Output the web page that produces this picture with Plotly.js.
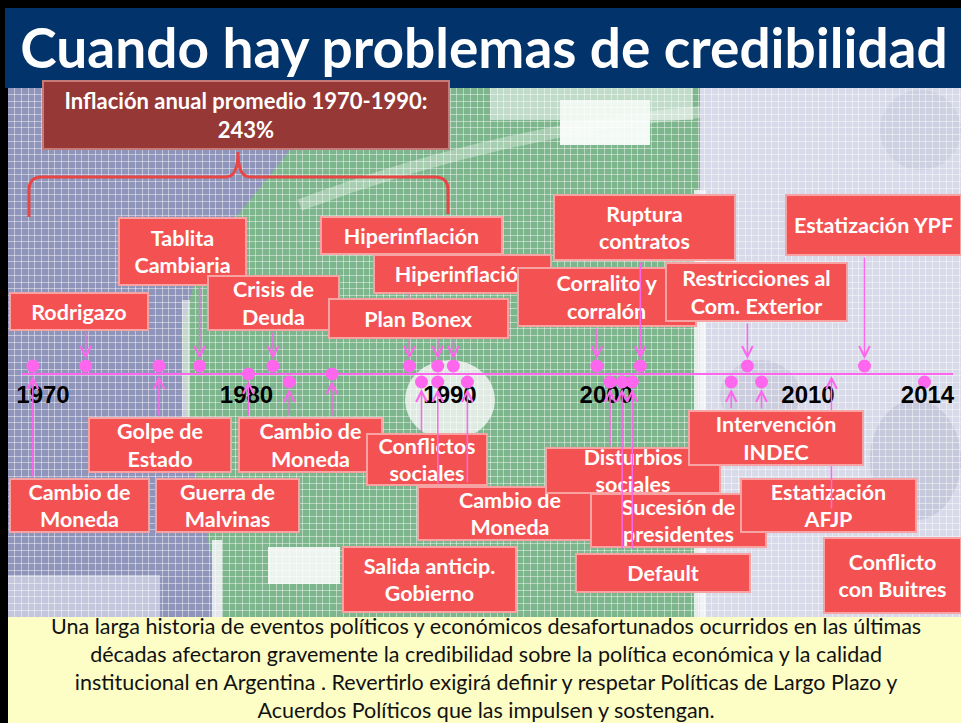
<!DOCTYPE html>
<html><head><meta charset="utf-8">
<script src="https://cdn.plot.ly/plotly-3.0.1.min.js"></script>
<style>html,body{margin:0;padding:0;background:#000;} #chart{width:961px;height:723px;}</style>
</head><body><div id="chart"></div>
<script>
// ================= DATA =================
const titleText = 'Cuando hay problemas de credibilidad';
const tickYears = [1970, 1980, 1990, 2000, 2010, 2014];
const tickLabels = ['1970', '1980', '1990', '2000', '2010', '2014'];

// timeline points (years on the slide's own scale)
const markerYears = [1969.5, 1972.1, 1975.7, 1977.7, 1980.1, 1981.3, 1982.1, 1984.2, 1988.0, 1988.6, 1989.4, 1989.4,
                     1990.2, 1991.1, 1999.4, 2000.2, 2000.8, 2001.3, 2001.7, 2006.2, 2007.0, 2007.7, 2011.9, 2013.9];
// 1 = above the line, 0 = on the line, -1 = below the line
const markerSide = [1, 1, 1, 1, 0, 1, -1, 0, 1, -1, 1, -1, 1, -1, 1, -1, -1, -1, 1, -1, 1, -1, 1, -1];

// connector arrows (year they point at, level pointed at, and where they come from)
const connectorYears = [1969.5, 1972.1, 1975.7, 1977.7, 1980.1, 1981.3, 1982.1, 1984.2, 1988.0, 1988.6, 1989.4, 1989.4,
                        1990.2, 1991.1, 1999.4, 2000.2, 2000.8, 2001.3, 2001.7, 2006.2, 2007.0, 2007.7, 2010.8, 2011.9];
const connectorHead = [0, 1, 0, 1, 0, 1, -1, 0, 1, -1, 1, -1, 1, -1, 1, -1, -1, -1, 1, -1, 1, -1, 0, 1];
const connectorFrom = ['below', 'above', 'below', 'above', 'below', 'above', 'below', 'below', 'above', 'below', 'above', 'below',
                       'above', 'below', 'above', 'below', 'below', 'below', 'above', 'below', 'above', 'below', 'below', 'above'];

const eventLabels = [
  'Cambio de<br>Moneda', 'Rodrigazo', 'Golpe de<br>Estado', 'Tablita<br>Cambiaria', 'Guerra de<br>Malvinas',
  'Crisis de<br>Deuda', 'Cambio de<br>Moneda', 'Hiperinflación', 'Conflictos<br>sociales', 'Hiperinflación',
  'Plan Bonex', 'Cambio de<br>Moneda', 'Salida anticip.<br>Gobierno', 'Corralito y<br>corralón', 'Ruptura<br>contratos',
  'Disturbios<br>sociales', 'Sucesión de<br>presidentes', 'Default', 'Intervención<br>INDEC', 'Restricciones al<br>Com. Exterior',
  'Estatización<br>AFJP', 'Estatización YPF', 'Conflicto<br>con Buitres'
];
const inflationLabel = 'Inflación anual promedio 1970-1990:<br>243%';
const footLines = [
  'Una larga historia de eventos políticos y económicos desafortunados ocurridos en las últimas',
  'décadas afectaron gravemente la credibilidad sobre la política económica y la calidad',
  'institucional en Argentina . Revertirlo exigirá definir y respetar Políticas de Largo Plazo y',
  'Acuerdos Políticos que las impulsen y sostengan.'
];

// ================= LAYOUT (pixel geometry of the slide) =================
const W = 961, H = 723;
const PX = x => x / W, PY = y => 1 - y / H;
const LINE_PY = 374, LEVEL_PX = 8;
const PINK = '#FF66EE';

// event boxes [x0, y0, x1, y1] in pixels, same order as eventLabels
const boxGeom = [
  [9, 478, 150, 533], [9, 292, 149, 331], [88, 417, 232, 473], [118, 217, 247, 286], [155, 478, 300, 533],
  [207, 275, 340, 331], [238, 417, 383, 473], [320, 216, 503, 255], [366, 433, 488, 486], [373, 254, 552, 294],
  [328, 298, 509, 339], [417, 486, 603, 541], [342, 546, 517, 613], [517, 267, 697, 327], [553, 194, 736, 261],
  [545, 447, 721, 494], [590, 493, 767, 548], [575, 553, 751, 593], [688, 410, 864, 466], [665, 262, 848, 322],
  [740, 478, 917, 533], [785, 194, 962, 256], [823, 537, 962, 614]
];
// tail of each connector (pixel y)
const connectorTail = [478, 331, 417, 286, 417, 331, 417, 417, 255, 433, 294, 486,
                       339, 484, 327, 447, 550, 550, 261, 410, 322, 410, 510, 256];
// drawing order: 'a#' connector, 'b#' box
const drawOrder = ['a0','a1','a2','a3','a4','a5','a6','a7','a8','a9','a10','a12','a14','a15','a19','a20','a21','a23',
  'b3','b5','b7','b9','b1','b10','b14','b13','a18','b19','b21','b2','b6','b8','a11','a13',
  'b0','b4','b11','b12','b15','b16','a16','a17','b17','b20','a22','b18','b22'];

// piecewise slide scale: four axis segments
const segs = [
  {id: 'x2', pxr: [22, 451], yr: [1968.968, 1990.05]},
  {id: 'x3', pxr: [451, 607], yr: [1990.05, 2000.05]},
  {id: 'x4', pxr: [607, 809], yr: [2000.05, 2010.05]},
  {id: 'x5', pxr: [809, 953], yr: [2010.05, 2014.85]}
];
const segOf = yr => (segs.find(s => yr >= s.yr[0] && yr < s.yr[1]) || segs[segs.length - 1]).id;

// ================= TRACES =================
const traces = [{type: 'scatter', x: [], y: [], xaxis: 'x', yaxis: 'y', hoverinfo: 'skip', showlegend: false}];
segs.forEach(s => {
  const idx = markerYears.map((v, i) => i).filter(i => segOf(markerYears[i]) === s.id);
  traces.push({
    type: 'scatter', mode: 'markers', xaxis: s.id, yaxis: 'y2',
    x: idx.map(i => markerYears[i]), y: idx.map(i => markerSide[i]),
    marker: {size: 13, color: PINK}, cliponaxis: false, hoverinfo: 'skip', showlegend: false
  });
});

// ================= SHAPES =================
function path(pts) { return pts.map((p, i) => (i ? 'L' : 'M') + PX(p[0]).toFixed(5) + ',' + PY(p[1]).toFixed(5)).join(' ') + ' Z'; }
function rect(x0, y0, x1, y1, color, extra) {
  return Object.assign({type: 'rect', xref: 'paper', yref: 'paper', x0: PX(x0), x1: PX(x1), y0: PY(y1), y1: PY(y0),
    fillcolor: color, line: {width: 0}, layer: 'below'}, extra || {});
}
function circ(x0, y0, x1, y1, color, op) {
  return {type: 'circle', xref: 'paper', yref: 'paper', layer: 'below', x0: PX(x0), x1: PX(x1), y0: PY(y1), y1: PY(y0),
    fillcolor: color, line: {width: 0}, opacity: op};
}
const shapes = [
  rect(5, 8, 961, 88, '#02336A'),
  rect(8, 88, 961, 617, '#8F94BA'),
  {type: 'path', xref: 'paper', yref: 'paper', layer: 'below', fillcolor: '#7DB58C', line: {width: 0},
   path: path([[290, 88], [700, 88], [700, 617], [222, 617], [212, 560], [186, 420], [182, 330], [200, 260], [250, 200], [290, 150]])},
  rect(700, 88, 961, 617, '#D8DAE9'),
  circ(870, 400, 961, 520, '#BABDD2', 0.6),
  circ(720, 360, 800, 430, '#BDC0D4', 0.5),
  circ(880, 90, 961, 170, '#C2C5D8', 0.5),
  rect(694, 190, 706, 617, '#F4F6F8', {opacity: 0.85}),
  rect(182, 300, 190, 420, '#F0F2F4', {opacity: 0.6}),
  rect(212, 540, 222, 617, '#F4F6F8', {opacity: 0.85}),
  rect(268, 547, 340, 584, '#FAFBFA', {opacity: 0.9}),
  rect(560, 100, 650, 145, '#FAFDFB', {opacity: 0.95}),
  rect(490, 88, 693, 120, '#EDF5EF', {opacity: 0.6}),
  rect(8, 575, 160, 617, '#DADCEC', {opacity: 0.7}),
  circ(405, 360, 495, 440, '#F6F8F7', 0.8),
  {type: 'path', xref: 'paper', yref: 'paper', layer: 'below', line: {color: 'rgba(250,252,250,0.35)', width: 12},
   path: 'M' + PX(300) + ',' + PY(205) + ' Q' + PX(500) + ',' + PY(130) + ' ' + PX(700) + ',' + PY(112)},
  rect(8, 617, 961, 723, '#FDFDC6'),
  // brace under the inflation box
  {type: 'path', xref: 'paper', yref: 'paper', layer: 'above', line: {color: '#E84545', width: 3},
   path: 'M' + PX(29) + ',' + PY(217) + ' L' + PX(29) + ',' + PY(190) + ' Q' + PX(29) + ',' + PY(177) + ' ' + PX(42) + ',' + PY(177) +
         ' L' + PX(226) + ',' + PY(177) + ' Q' + PX(238) + ',' + PY(177) + ' ' + PX(238) + ',' + PY(152) +
         ' Q' + PX(238) + ',' + PY(177) + ' ' + PX(250) + ',' + PY(177) + ' L' + PX(435) + ',' + PY(177) +
         ' Q' + PX(448) + ',' + PY(177) + ' ' + PX(448) + ',' + PY(190) + ' L' + PX(448) + ',' + PY(214)}
];

// ================= ANNOTATIONS =================
const BOXFONT = {family: 'Lato, Calibri, sans-serif', size: 21.5, color: '#FFFFFF'};
function boxAnn(i) {
  const g = boxGeom[i];
  return {xref: 'paper', yref: 'paper', x: PX((g[0] + g[2]) / 2), y: PY((g[1] + g[3]) / 2), xanchor: 'center', yanchor: 'middle',
    text: '<b>' + eventLabels[i] + '</b>', showarrow: false, width: g[2] - g[0] - 4, height: g[3] - g[1] - 4,
    bgcolor: '#F45252', bordercolor: '#F8A3A3', borderwidth: 2, borderpad: 0, font: BOXFONT};
}
function hasMarker(yr, lv) { return markerYears.some((v, i) => Math.abs(v - yr) < 1e-6 && markerSide[i] === lv); }
function arrowAnn(i) {
  const yr = connectorYears[i], lv = connectorHead[i];
  const headPx = LINE_PY - LEVEL_PX * lv;
  return {xref: segOf(yr), yref: 'y2', x: yr, y: lv, ax: 0, ay: connectorTail[i] - headPx, text: '', font: {size: 1},
    showarrow: true, arrowhead: 5, arrowsize: 1.4, arrowwidth: 1.5, arrowcolor: PINK,
    standoff: hasMarker(yr, lv) ? 7 : 2};
}
const annotations = [];
drawOrder.forEach(k => {
  const i = +k.slice(1);
  annotations.push(k[0] === 'a' ? arrowAnn(i) : boxAnn(i));
});
annotations.unshift({xref: 'paper', yref: 'paper', x: PX(246), y: PY(115), xanchor: 'center', yanchor: 'middle',
  text: '<b>' + inflationLabel + '</b>', showarrow: false, width: 404, height: 66, bgcolor: '#953836',
  bordercolor: '#C47C7A', borderwidth: 2, borderpad: 0, font: {family: 'Lato, sans-serif', size: 22, color: '#FFFFFF'}});
annotations.push({xref: 'paper', yref: 'paper', x: PX(486), y: PY(668), xanchor: 'center', yanchor: 'middle',
  text: footLines.join('<br>'), showarrow: false, font: {family: 'Lato, sans-serif', size: 21.5, color: '#111111'}});

// ================= AXES =================
const Y_LO = -1.3, Y_HI = 1.5;
const layout = {
  width: W, height: H, margin: {l: 0, r: 0, t: 0, b: 0}, showlegend: false,
  paper_bgcolor: '#000000', plot_bgcolor: 'rgba(0,0,0,0)',
  title: {text: '<b>' + titleText + '</b>', font: {family: 'Lato, sans-serif', size: 55, color: '#FFFFFF'},
          xref: 'paper', yref: 'paper', x: PX(484), xanchor: 'center', y: PY(49), yanchor: 'middle'},
  xaxis: {domain: [PX(8), 1], range: [0, 953 / 6.7], dtick: 1, showgrid: true, gridcolor: 'rgba(255,255,255,0.45)', gridwidth: 1,
          zeroline: false, showticklabels: false, ticks: '', showline: false, fixedrange: true},
  yaxis: {domain: [PY(617), PY(88)], range: [0, 529 / 6.7], dtick: 1, showgrid: true, gridcolor: 'rgba(255,255,255,0.45)', gridwidth: 1,
          zeroline: false, showticklabels: false, ticks: '', showline: false, fixedrange: true},
  yaxis2: {domain: [PY(LINE_PY - LEVEL_PX * Y_LO), PY(LINE_PY - LEVEL_PX * Y_HI)], range: [Y_LO, Y_HI], anchor: 'x2',
           showgrid: false, showticklabels: false, ticks: '',
           zeroline: true, zerolinecolor: PINK, zerolinewidth: 2.5, showline: false, fixedrange: true},
  shapes: shapes, annotations: annotations
};
segs.forEach(s => {
  const key = 'xaxis' + s.id.slice(1);
  const tv = tickYears.filter(t => t >= s.yr[0] && t <= s.yr[1]);
  layout[key] = {domain: [PX(s.pxr[0]), PX(s.pxr[1])], range: s.yr, anchor: 'y2', showgrid: false, zeroline: false, showline: false,
    ticks: '', tickmode: 'array', tickvals: tv, ticktext: tv.map(t => tickLabels[tickYears.indexOf(t)]), ticklabelstandoff: -6,
    tickfont: {family: 'Liberation Sans, Arial, sans-serif', size: 24, color: '#000000', weight: 'bold'}, fixedrange: true};
});

Plotly.newPlot('chart', traces, layout, {staticPlot: true, displayModeBar: false});
</script>
</body></html>
